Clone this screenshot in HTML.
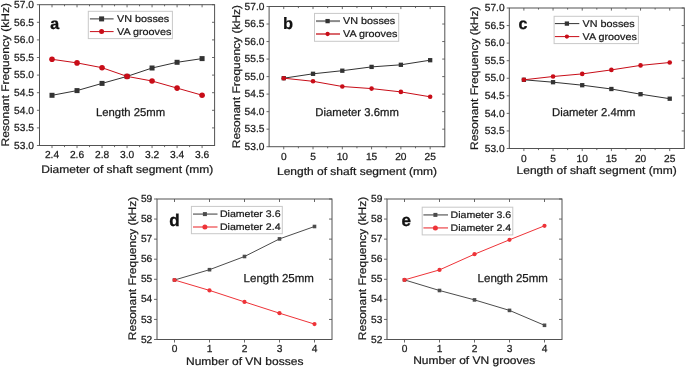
<!DOCTYPE html>
<html><head><meta charset="utf-8"><title>Resonant frequency plots</title><style>
html,body{margin:0;padding:0;background:#fff;}
svg{display:block;filter:blur(0.25px);}
text{font-family:"Liberation Sans",sans-serif;text-rendering:geometricPrecision;}
</style></head><body>
<svg width="685" height="367" viewBox="0 0 685 367">
<rect width="685" height="367" fill="#fff"/>
<path d="M52.01 145.5V148.1M52.01 4.7V7.3M77.02 145.5V148.1M77.02 4.7V7.3M102.04 145.5V148.1M102.04 4.7V7.3M127.05 145.5V148.1M127.05 4.7V7.3M152.06 145.5V148.1M152.06 4.7V7.3M177.08 145.5V148.1M177.08 4.7V7.3M202.09 145.5V148.1M202.09 4.7V7.3M64.51 145.5V147.1M64.51 4.7V6.3M89.53 145.5V147.1M89.53 4.7V6.3M114.54 145.5V147.1M114.54 4.7V6.3M139.56 145.5V147.1M139.56 4.7V6.3M164.57 145.5V147.1M164.57 4.7V6.3M189.59 145.5V147.1M189.59 4.7V6.3M39.5 145.5H36.9M214.6 145.5H212M39.5 127.9H36.9M214.6 127.9H212M39.5 110.3H36.9M214.6 110.3H212M39.5 92.7H36.9M214.6 92.7H212M39.5 75.1H36.9M214.6 75.1H212M39.5 57.5H36.9M214.6 57.5H212M39.5 39.9H36.9M214.6 39.9H212M39.5 22.3H36.9M214.6 22.3H212M39.5 4.7H36.9M214.6 4.7H212" stroke="#6a6a6a" stroke-width="1" fill="none"/>
<rect x="39.5" y="4.7" width="175.1" height="140.8" fill="none" stroke="#525252" stroke-width="1"/>
<polyline points="52.01,95.3 77.02,90.6 102.04,83.4 127.05,76.4 152.06,68 177.08,62.3 202.09,58.6" fill="none" stroke="#333333" stroke-width="1.0" stroke-linejoin="round"/>
<rect x="49.51" y="92.8" width="5" height="5" fill="#333333"/>
<rect x="74.52" y="88.1" width="5" height="5" fill="#333333"/>
<rect x="99.54" y="80.9" width="5" height="5" fill="#333333"/>
<rect x="124.55" y="73.9" width="5" height="5" fill="#333333"/>
<rect x="149.56" y="65.5" width="5" height="5" fill="#333333"/>
<rect x="174.58" y="59.8" width="5" height="5" fill="#333333"/>
<rect x="199.59" y="56.1" width="5" height="5" fill="#333333"/>
<polyline points="52.01,59.3 77.02,62.9 102.04,67.7 127.05,76.4 152.06,81 177.08,88.1 202.09,95.2" fill="none" stroke="#c80d18" stroke-width="1.0" stroke-linejoin="round"/>
<circle cx="52.01" cy="59.3" r="2.8" fill="#c80d18"/>
<circle cx="77.02" cy="62.9" r="2.8" fill="#c80d18"/>
<circle cx="102.04" cy="67.7" r="2.8" fill="#c80d18"/>
<circle cx="127.05" cy="76.4" r="2.8" fill="#c80d18"/>
<circle cx="152.06" cy="81" r="2.8" fill="#c80d18"/>
<circle cx="177.08" cy="88.1" r="2.8" fill="#c80d18"/>
<circle cx="202.09" cy="95.2" r="2.8" fill="#c80d18"/>
<rect x="88.3" y="11.3" width="84.1" height="27.3" fill="#fff" stroke="#c8c8c8" stroke-width="1"/>
<line x1="89.9" y1="18.9" x2="113.6" y2="18.9" stroke="#333333" stroke-width="1.0"/>
<rect x="99.1" y="16.4" width="5" height="5" fill="#333333"/>
<line x1="89.9" y1="31.6" x2="113.6" y2="31.6" stroke="#c80d18" stroke-width="1.0"/>
<circle cx="101.6" cy="31.6" r="2.5" fill="#c80d18"/>
<path d="M283.74 146.7V149.3M283.74 6.5V9.1M313.03 146.7V149.3M313.03 6.5V9.1M342.31 146.7V149.3M342.31 6.5V9.1M371.59 146.7V149.3M371.59 6.5V9.1M400.88 146.7V149.3M400.88 6.5V9.1M430.16 146.7V149.3M430.16 6.5V9.1M298.38 146.7V148.3M298.38 6.5V8.1M327.67 146.7V148.3M327.67 6.5V8.1M356.95 146.7V148.3M356.95 6.5V8.1M386.23 146.7V148.3M386.23 6.5V8.1M415.52 146.7V148.3M415.52 6.5V8.1M269.1 146.7H266.5M444.8 146.7H442.2M269.1 129.17H266.5M444.8 129.17H442.2M269.1 111.65H266.5M444.8 111.65H442.2M269.1 94.12H266.5M444.8 94.12H442.2M269.1 76.6H266.5M444.8 76.6H442.2M269.1 59.07H266.5M444.8 59.07H442.2M269.1 41.55H266.5M444.8 41.55H442.2M269.1 24.03H266.5M444.8 24.03H442.2M269.1 6.5H266.5M444.8 6.5H442.2" stroke="#6a6a6a" stroke-width="1" fill="none"/>
<rect x="269.1" y="6.5" width="175.7" height="140.2" fill="none" stroke="#525252" stroke-width="1"/>
<polyline points="283.74,78.2 313.03,73.8 342.31,70.7 371.59,66.9 400.88,64.8 430.16,60.2" fill="none" stroke="#333333" stroke-width="1.0" stroke-linejoin="round"/>
<rect x="281.59" y="76.05" width="4.3" height="4.3" fill="#333333"/>
<rect x="310.88" y="71.65" width="4.3" height="4.3" fill="#333333"/>
<rect x="340.16" y="68.55" width="4.3" height="4.3" fill="#333333"/>
<rect x="369.44" y="64.75" width="4.3" height="4.3" fill="#333333"/>
<rect x="398.73" y="62.65" width="4.3" height="4.3" fill="#333333"/>
<rect x="428.01" y="58.05" width="4.3" height="4.3" fill="#333333"/>
<polyline points="283.74,78.2 313.03,81.3 342.31,86.5 371.59,88.6 400.88,91.9 430.16,96.8" fill="none" stroke="#c80d18" stroke-width="1.0" stroke-linejoin="round"/>
<circle cx="283.74" cy="78.2" r="2.3" fill="#c80d18"/>
<circle cx="313.03" cy="81.3" r="2.3" fill="#c80d18"/>
<circle cx="342.31" cy="86.5" r="2.3" fill="#c80d18"/>
<circle cx="371.59" cy="88.6" r="2.3" fill="#c80d18"/>
<circle cx="400.88" cy="91.9" r="2.3" fill="#c80d18"/>
<circle cx="430.16" cy="96.8" r="2.3" fill="#c80d18"/>
<rect x="314.5" y="13.4" width="84.2" height="27.9" fill="#fff" stroke="#c8c8c8" stroke-width="1"/>
<line x1="316" y1="21.1" x2="340" y2="21.1" stroke="#8a8a8a" stroke-width="2"/>
<rect x="325.45" y="18.95" width="4.3" height="4.3" fill="#333333"/>
<line x1="316" y1="34" x2="340" y2="34" stroke="#d9676c" stroke-width="2"/>
<circle cx="327.6" cy="34" r="2.15" fill="#c80d18"/>
<path d="M523.88 148.5V151.1M523.88 8V10.6M553.05 148.5V151.1M553.05 8V10.6M582.22 148.5V151.1M582.22 8V10.6M611.38 148.5V151.1M611.38 8V10.6M640.55 148.5V151.1M640.55 8V10.6M669.72 148.5V151.1M669.72 8V10.6M538.47 148.5V150.1M538.47 8V9.6M567.63 148.5V150.1M567.63 8V9.6M596.8 148.5V150.1M596.8 8V9.6M625.97 148.5V150.1M625.97 8V9.6M655.13 148.5V150.1M655.13 8V9.6M509.3 148.5H506.7M684.3 148.5H681.7M509.3 130.94H506.7M684.3 130.94H681.7M509.3 113.38H506.7M684.3 113.38H681.7M509.3 95.81H506.7M684.3 95.81H681.7M509.3 78.25H506.7M684.3 78.25H681.7M509.3 60.69H506.7M684.3 60.69H681.7M509.3 43.12H506.7M684.3 43.12H681.7M509.3 25.56H506.7M684.3 25.56H681.7M509.3 8H506.7M684.3 8H681.7" stroke="#6a6a6a" stroke-width="1" fill="none"/>
<rect x="509.3" y="8" width="175" height="140.5" fill="none" stroke="#525252" stroke-width="1"/>
<polyline points="523.88,79.8 553.05,82.2 582.22,85.2 611.38,89 640.55,94.2 669.72,98.7" fill="none" stroke="#333333" stroke-width="1.0" stroke-linejoin="round"/>
<rect x="521.73" y="77.65" width="4.3" height="4.3" fill="#333333"/>
<rect x="550.9" y="80.05" width="4.3" height="4.3" fill="#333333"/>
<rect x="580.07" y="83.05" width="4.3" height="4.3" fill="#333333"/>
<rect x="609.23" y="86.85" width="4.3" height="4.3" fill="#333333"/>
<rect x="638.4" y="92.05" width="4.3" height="4.3" fill="#333333"/>
<rect x="667.57" y="96.55" width="4.3" height="4.3" fill="#333333"/>
<polyline points="523.88,79.8 553.05,76.5 582.22,73.9 611.38,69.9 640.55,65.4 669.72,62.5" fill="none" stroke="#c80d18" stroke-width="1.0" stroke-linejoin="round"/>
<circle cx="523.88" cy="79.8" r="2.3" fill="#c80d18"/>
<circle cx="553.05" cy="76.5" r="2.3" fill="#c80d18"/>
<circle cx="582.22" cy="73.9" r="2.3" fill="#c80d18"/>
<circle cx="611.38" cy="69.9" r="2.3" fill="#c80d18"/>
<circle cx="640.55" cy="65.4" r="2.3" fill="#c80d18"/>
<circle cx="669.72" cy="62.5" r="2.3" fill="#c80d18"/>
<rect x="554.1" y="16.3" width="84.3" height="27.3" fill="#fff" stroke="#c8c8c8" stroke-width="1"/>
<line x1="554.9" y1="23.6" x2="579.3" y2="23.6" stroke="#333333" stroke-width="1.0"/>
<rect x="564.75" y="21.45" width="4.3" height="4.3" fill="#333333"/>
<line x1="554.9" y1="36.6" x2="579.3" y2="36.6" stroke="#c80d18" stroke-width="1.0"/>
<circle cx="566.9" cy="36.6" r="2.15" fill="#c80d18"/>
<path d="M174.5 339.5V342.5M174.5 199V202M209.5 339.5V342.5M209.5 199V202M244.5 339.5V342.5M244.5 199V202M279.5 339.5V342.5M279.5 199V202M314.5 339.5V342.5M314.5 199V202M157 339.5H154M332 339.5H329M157 319.43H154M332 319.43H329M157 299.36H154M332 299.36H329M157 279.29H154M332 279.29H329M157 259.21H154M332 259.21H329M157 239.14H154M332 239.14H329M157 219.07H154M332 219.07H329M157 199H154M332 199H329" stroke="#6a6a6a" stroke-width="1" fill="none"/>
<rect x="157" y="199" width="175" height="140.5" fill="none" stroke="#525252" stroke-width="1"/>
<polyline points="174.5,280 209.5,269.7 244.5,256.5 279.5,238.9 314.5,226.5" fill="none" stroke="#4c4c4c" stroke-width="1.0" stroke-linejoin="round"/>
<rect x="172.7" y="278.2" width="3.6" height="3.6" fill="#4c4c4c"/>
<rect x="207.7" y="267.9" width="3.6" height="3.6" fill="#4c4c4c"/>
<rect x="242.7" y="254.7" width="3.6" height="3.6" fill="#4c4c4c"/>
<rect x="277.7" y="237.1" width="3.6" height="3.6" fill="#4c4c4c"/>
<rect x="312.7" y="224.7" width="3.6" height="3.6" fill="#4c4c4c"/>
<polyline points="174.5,280 209.5,290.4 244.5,301.9 279.5,313.2 314.5,324.1" fill="none" stroke="#ee3338" stroke-width="1.0" stroke-linejoin="round"/>
<circle cx="174.5" cy="280" r="2.1" fill="#ee3338"/>
<circle cx="209.5" cy="290.4" r="2.1" fill="#ee3338"/>
<circle cx="244.5" cy="301.9" r="2.1" fill="#ee3338"/>
<circle cx="279.5" cy="313.2" r="2.1" fill="#ee3338"/>
<circle cx="314.5" cy="324.1" r="2.1" fill="#ee3338"/>
<rect x="191.4" y="206.4" width="90.9" height="27.3" fill="#fff" stroke="#c8c8c8" stroke-width="1"/>
<line x1="193" y1="214.1" x2="217.5" y2="214.1" stroke="#7a7a7a" stroke-width="1.5"/>
<rect x="202.9" y="212.1" width="4" height="4" fill="#4c4c4c"/>
<line x1="193" y1="227" x2="217.5" y2="227" stroke="#f06a6d" stroke-width="1.5"/>
<circle cx="204.9" cy="227" r="2.5" fill="#ee3338"/>
<path d="M404.5 339.5V342.5M404.5 199V202M439.5 339.5V342.5M439.5 199V202M474.5 339.5V342.5M474.5 199V202M509.5 339.5V342.5M509.5 199V202M544.5 339.5V342.5M544.5 199V202M387 339.5H384M562 339.5H559M387 319.43H384M562 319.43H559M387 299.36H384M562 299.36H559M387 279.29H384M562 279.29H559M387 259.21H384M562 259.21H559M387 239.14H384M562 239.14H559M387 219.07H384M562 219.07H559M387 199H384M562 199H559" stroke="#6a6a6a" stroke-width="1" fill="none"/>
<rect x="387" y="199" width="175" height="140.5" fill="none" stroke="#525252" stroke-width="1"/>
<polyline points="404.5,279.9 439.5,290.5 474.5,299.9 509.5,310.4 544.5,325.3" fill="none" stroke="#4c4c4c" stroke-width="1.0" stroke-linejoin="round"/>
<rect x="402.7" y="278.1" width="3.6" height="3.6" fill="#4c4c4c"/>
<rect x="437.7" y="288.7" width="3.6" height="3.6" fill="#4c4c4c"/>
<rect x="472.7" y="298.1" width="3.6" height="3.6" fill="#4c4c4c"/>
<rect x="507.7" y="308.6" width="3.6" height="3.6" fill="#4c4c4c"/>
<rect x="542.7" y="323.5" width="3.6" height="3.6" fill="#4c4c4c"/>
<polyline points="404.5,279.9 439.5,269.9 474.5,254.2 509.5,239.8 544.5,225.8" fill="none" stroke="#ee3338" stroke-width="1.0" stroke-linejoin="round"/>
<circle cx="404.5" cy="279.9" r="2.1" fill="#ee3338"/>
<circle cx="439.5" cy="269.9" r="2.1" fill="#ee3338"/>
<circle cx="474.5" cy="254.2" r="2.1" fill="#ee3338"/>
<circle cx="509.5" cy="239.8" r="2.1" fill="#ee3338"/>
<circle cx="544.5" cy="225.8" r="2.1" fill="#ee3338"/>
<rect x="422.2" y="207.2" width="90.6" height="27.7" fill="#fff" stroke="#c8c8c8" stroke-width="1"/>
<line x1="423.4" y1="214.9" x2="448" y2="214.9" stroke="#7a7a7a" stroke-width="1.5"/>
<rect x="433.4" y="212.9" width="4" height="4" fill="#4c4c4c"/>
<line x1="423.4" y1="227.9" x2="448" y2="227.9" stroke="#f06a6d" stroke-width="1.5"/>
<circle cx="435.4" cy="227.9" r="2.5" fill="#ee3338"/>
<g fill="#1a1a1a" stroke="#1a1a1a" stroke-width="0.25" stroke-linejoin="round">
<text transform="translate(52.01 158.4)" text-anchor="middle" font-size="10.2">2.4</text>
<text transform="translate(77.02 158.4)" text-anchor="middle" font-size="10.2">2.6</text>
<text transform="translate(102.04 158.4)" text-anchor="middle" font-size="10.2">2.8</text>
<text transform="translate(127.05 158.4)" text-anchor="middle" font-size="10.2">3.0</text>
<text transform="translate(152.06 158.4)" text-anchor="middle" font-size="10.2">3.2</text>
<text transform="translate(177.08 158.4)" text-anchor="middle" font-size="10.2">3.4</text>
<text transform="translate(202.09 158.4)" text-anchor="middle" font-size="10.2">3.6</text>
<text transform="translate(33.9 148.7)" text-anchor="end" font-size="10.2">53.0</text>
<text transform="translate(33.9 131.1)" text-anchor="end" font-size="10.2">53.5</text>
<text transform="translate(33.9 113.5)" text-anchor="end" font-size="10.2">54.0</text>
<text transform="translate(33.9 95.9)" text-anchor="end" font-size="10.2">54.5</text>
<text transform="translate(33.9 78.3)" text-anchor="end" font-size="10.2">55.0</text>
<text transform="translate(33.9 60.7)" text-anchor="end" font-size="10.2">55.5</text>
<text transform="translate(33.9 43.1)" text-anchor="end" font-size="10.2">56.0</text>
<text transform="translate(33.9 25.5)" text-anchor="end" font-size="10.2">56.5</text>
<text transform="translate(33.9 7.9)" text-anchor="end" font-size="10.2">57.0</text>
<text transform="translate(117 22.2) scale(1 0.9)" font-size="10.8">VN bosses</text>
<text transform="translate(117 34.9) scale(1 0.9)" font-size="10.8">VA grooves</text>
<text transform="translate(96 116.4)" font-size="11.3">Length 25mm</text>
<text transform="translate(9 74.8) rotate(-90) scale(1 0.91)" text-anchor="middle" font-size="12">Resonant Frequency (kHz)</text>
<text transform="translate(127.3 173.3) scale(1 0.91)" text-anchor="middle" font-size="12">Diameter of shaft segment (mm)</text>
<text transform="translate(283.74 159.7)" text-anchor="middle" font-size="10.2">0</text>
<text transform="translate(313.03 159.7)" text-anchor="middle" font-size="10.2">5</text>
<text transform="translate(342.31 159.7)" text-anchor="middle" font-size="10.2">10</text>
<text transform="translate(371.59 159.7)" text-anchor="middle" font-size="10.2">15</text>
<text transform="translate(400.88 159.7)" text-anchor="middle" font-size="10.2">20</text>
<text transform="translate(430.16 159.7)" text-anchor="middle" font-size="10.2">25</text>
<text transform="translate(264.4 149.9)" text-anchor="end" font-size="10.2">53.0</text>
<text transform="translate(264.4 132.37)" text-anchor="end" font-size="10.2">53.5</text>
<text transform="translate(264.4 114.85)" text-anchor="end" font-size="10.2">54.0</text>
<text transform="translate(264.4 97.33)" text-anchor="end" font-size="10.2">54.5</text>
<text transform="translate(264.4 79.8)" text-anchor="end" font-size="10.2">55.0</text>
<text transform="translate(264.4 62.27)" text-anchor="end" font-size="10.2">55.5</text>
<text transform="translate(264.4 44.75)" text-anchor="end" font-size="10.2">56.0</text>
<text transform="translate(264.4 27.23)" text-anchor="end" font-size="10.2">56.5</text>
<text transform="translate(264.4 9.7)" text-anchor="end" font-size="10.2">57.0</text>
<text transform="translate(343 24.4) scale(1 0.9)" font-size="10.8">VN bosses</text>
<text transform="translate(343 36.9) scale(1 0.9)" font-size="10.8">VA grooves</text>
<text transform="translate(315.3 116.1)" font-size="11.3">Diameter 3.6mm</text>
<text transform="translate(239.5 76.6) rotate(-90) scale(1 0.91)" text-anchor="middle" font-size="12">Resonant Frequency (kHz)</text>
<text transform="translate(357 174.9) scale(1 0.91)" text-anchor="middle" font-size="12">Length of shaft segment (mm)</text>
<text transform="translate(523.88 161.5)" text-anchor="middle" font-size="10.2">0</text>
<text transform="translate(553.05 161.5)" text-anchor="middle" font-size="10.2">5</text>
<text transform="translate(582.22 161.5)" text-anchor="middle" font-size="10.2">10</text>
<text transform="translate(611.38 161.5)" text-anchor="middle" font-size="10.2">15</text>
<text transform="translate(640.55 161.5)" text-anchor="middle" font-size="10.2">20</text>
<text transform="translate(669.72 161.5)" text-anchor="middle" font-size="10.2">25</text>
<text transform="translate(504.6 151.7)" text-anchor="end" font-size="10.2">53.0</text>
<text transform="translate(504.6 134.14)" text-anchor="end" font-size="10.2">53.5</text>
<text transform="translate(504.6 116.58)" text-anchor="end" font-size="10.2">54.0</text>
<text transform="translate(504.6 99.01)" text-anchor="end" font-size="10.2">54.5</text>
<text transform="translate(504.6 81.45)" text-anchor="end" font-size="10.2">55.0</text>
<text transform="translate(504.6 63.89)" text-anchor="end" font-size="10.2">55.5</text>
<text transform="translate(504.6 46.33)" text-anchor="end" font-size="10.2">56.0</text>
<text transform="translate(504.6 28.76)" text-anchor="end" font-size="10.2">56.5</text>
<text transform="translate(504.6 11.2)" text-anchor="end" font-size="10.2">57.0</text>
<text transform="translate(582.5 26.8) scale(1 0.9)" font-size="10.8">VN bosses</text>
<text transform="translate(582.5 39.6) scale(1 0.9)" font-size="10.8">VA grooves</text>
<text transform="translate(552 116.4)" font-size="11.3">Diameter 2.4mm</text>
<text transform="translate(478 78.3) rotate(-90) scale(1 0.91)" text-anchor="middle" font-size="12">Resonant Frequency (kHz)</text>
<text transform="translate(596.6 173.8) scale(1 0.91)" text-anchor="middle" font-size="12">Length of shaft segment (mm)</text>
<text transform="translate(174.5 351.8)" text-anchor="middle" font-size="10.2">0</text>
<text transform="translate(209.5 351.8)" text-anchor="middle" font-size="10.2">1</text>
<text transform="translate(244.5 351.8)" text-anchor="middle" font-size="10.2">2</text>
<text transform="translate(279.5 351.8)" text-anchor="middle" font-size="10.2">3</text>
<text transform="translate(314.5 351.8)" text-anchor="middle" font-size="10.2">4</text>
<text transform="translate(152.3 342.6)" text-anchor="end" font-size="10.2">52</text>
<text transform="translate(152.3 322.53)" text-anchor="end" font-size="10.2">53</text>
<text transform="translate(152.3 302.46)" text-anchor="end" font-size="10.2">54</text>
<text transform="translate(152.3 282.39)" text-anchor="end" font-size="10.2">55</text>
<text transform="translate(152.3 262.31)" text-anchor="end" font-size="10.2">56</text>
<text transform="translate(152.3 242.24)" text-anchor="end" font-size="10.2">57</text>
<text transform="translate(152.3 222.17)" text-anchor="end" font-size="10.2">58</text>
<text transform="translate(152.3 202.1)" text-anchor="end" font-size="10.2">59</text>
<text transform="translate(219.9 216.9) scale(1 0.9)" font-size="10.6">Diameter 3.6</text>
<text transform="translate(219.9 229.9) scale(1 0.9)" font-size="10.6">Diameter 2.4</text>
<text transform="translate(243.6 282.3)" font-size="11.5">Length 25mm</text>
<text transform="translate(136.4 268.5) rotate(-90) scale(1 0.91)" text-anchor="middle" font-size="12">Resonant Frequency (kHz)</text>
<text transform="translate(244.7 365.1) scale(1 0.91)" text-anchor="middle" font-size="12">Number of VN bosses</text>
<text transform="translate(404.5 351.8)" text-anchor="middle" font-size="10.2">0</text>
<text transform="translate(439.5 351.8)" text-anchor="middle" font-size="10.2">1</text>
<text transform="translate(474.5 351.8)" text-anchor="middle" font-size="10.2">2</text>
<text transform="translate(509.5 351.8)" text-anchor="middle" font-size="10.2">3</text>
<text transform="translate(544.5 351.8)" text-anchor="middle" font-size="10.2">4</text>
<text transform="translate(382.4 342.6)" text-anchor="end" font-size="10.2">52</text>
<text transform="translate(382.4 322.53)" text-anchor="end" font-size="10.2">53</text>
<text transform="translate(382.4 302.46)" text-anchor="end" font-size="10.2">54</text>
<text transform="translate(382.4 282.39)" text-anchor="end" font-size="10.2">55</text>
<text transform="translate(382.4 262.31)" text-anchor="end" font-size="10.2">56</text>
<text transform="translate(382.4 242.24)" text-anchor="end" font-size="10.2">57</text>
<text transform="translate(382.4 222.17)" text-anchor="end" font-size="10.2">58</text>
<text transform="translate(382.4 202.1)" text-anchor="end" font-size="10.2">59</text>
<text transform="translate(450.5 217.9) scale(1 0.9)" font-size="10.6">Diameter 3.6</text>
<text transform="translate(450.5 230.7) scale(1 0.9)" font-size="10.6">Diameter 2.4</text>
<text transform="translate(477.6 282.4)" font-size="11.5">Length 25mm</text>
<text transform="translate(366.4 268.5) rotate(-90) scale(1 0.91)" text-anchor="middle" font-size="12">Resonant Frequency (kHz)</text>
<text transform="translate(474.2 363.7) scale(1 0.91)" text-anchor="middle" font-size="12">Number of VN grooves</text>
</g>
<text transform="translate(50.2 28.6)" font-size="16" font-weight="bold" fill="#111" stroke="#111" stroke-width="0.35" stroke-linejoin="round">a</text>
<text transform="translate(283 28.7)" font-size="16.5" font-weight="bold" fill="#111" stroke="#111" stroke-width="0.2" stroke-linejoin="round">b</text>
<text transform="translate(518.5 28.8)" font-size="16" font-weight="bold" fill="#111" stroke="#111" stroke-width="0.35" stroke-linejoin="round">c</text>
<text transform="translate(169.2 225.6)" font-size="17" font-weight="bold" fill="#111" stroke="#111" stroke-width="0.35" stroke-linejoin="round">d</text>
<text transform="translate(401.6 225.6)" font-size="17" font-weight="bold" fill="#111" stroke="#111" stroke-width="0.35" stroke-linejoin="round">e</text>
</svg>
</body></html>
